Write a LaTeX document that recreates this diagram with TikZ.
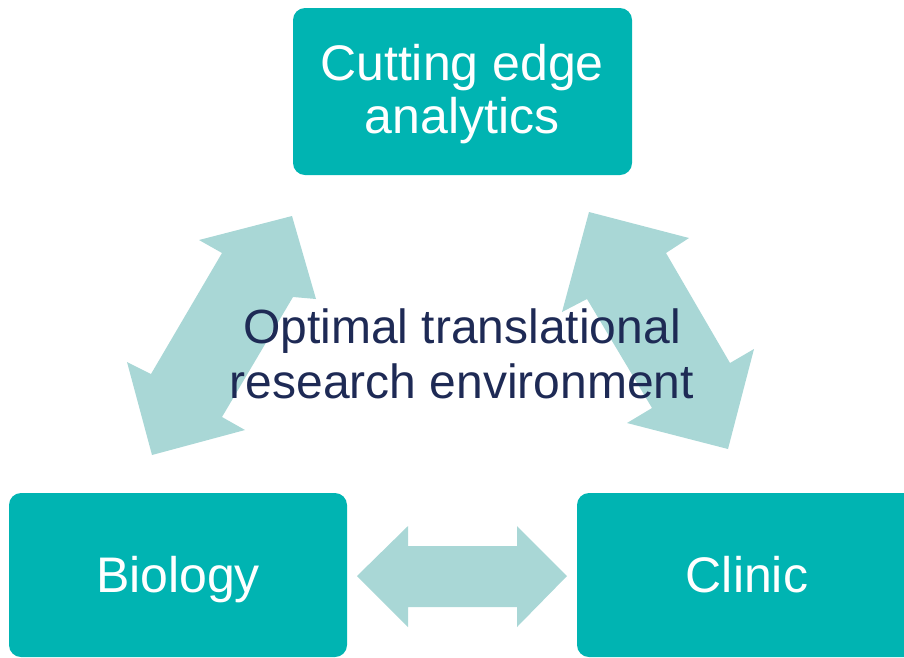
\documentclass[tikz,border=0pt]{standalone}
\usepackage{fontspec}
\setmainfont{Liberation Sans}
\definecolor{boxteal}{HTML}{00B4B2}
\definecolor{arrowteal}{HTML}{A9D7D6}
\definecolor{navy}{HTML}{1E2A55}
\tikzset{
  tealbox/.style={fill=boxteal, rounded corners=12pt, inner sep=0pt},
  boxtext/.style={text=white, align=center, inner sep=0pt, font=\fontsize{50}{53}\selectfont},
  blockarrow/.style={fill=arrowteal, draw=none}
}
\begin{document}
\begin{tikzpicture}[x=1pt,y=-1pt]
\useasboundingbox (0,0) rectangle (904,657);
\clip (0,0) rectangle (904,657);
% boxes
\node[tealbox, minimum width=339pt, minimum height=167pt] (top) at (462.5,91.5) {};
\node[boxtext] (toptext) at (462,94.5) {Cutting edge\\analytics};
\node[tealbox, minimum width=338pt, minimum height=164pt] (bio) at (178,575) {};
\node[boxtext, anchor=base] (biotext) at (178,592) {Biology};
\node[tealbox, minimum width=343pt, minimum height=164pt] (clinic) at (748.5,575) {};
\node[boxtext, anchor=base] (clinictext) at (747,592) {Clinic};
% left diagonal double arrow
\fill[blockarrow] (292,216) -- (316,299) -- (293,297) -- (222,417) -- (245,430) -- (152,455) -- (127,362) -- (151,374) -- (222,253) -- (199,240) -- cycle;
% right diagonal double arrow
\fill[blockarrow] (589,212) -- (689,238) -- (666,253) -- (730,363) -- (754,349) -- (728,449) -- (627,423) -- (652,408) -- (587,299) -- (562,312) -- cycle;
% bottom horizontal double arrow
\fill[blockarrow] (357,576) -- (408,526) -- (408,546) -- (517,546) -- (517,526) -- (567,576) -- (517,627) -- (517,607) -- (408,607) -- (408,627) -- cycle;
% centre text
\node[text=navy, align=center, font=\fontsize{48}{55}\selectfont, inner sep=0pt] (centre) at (462,354) {Optimal translational\\research environment};
\end{tikzpicture}
\end{document}
